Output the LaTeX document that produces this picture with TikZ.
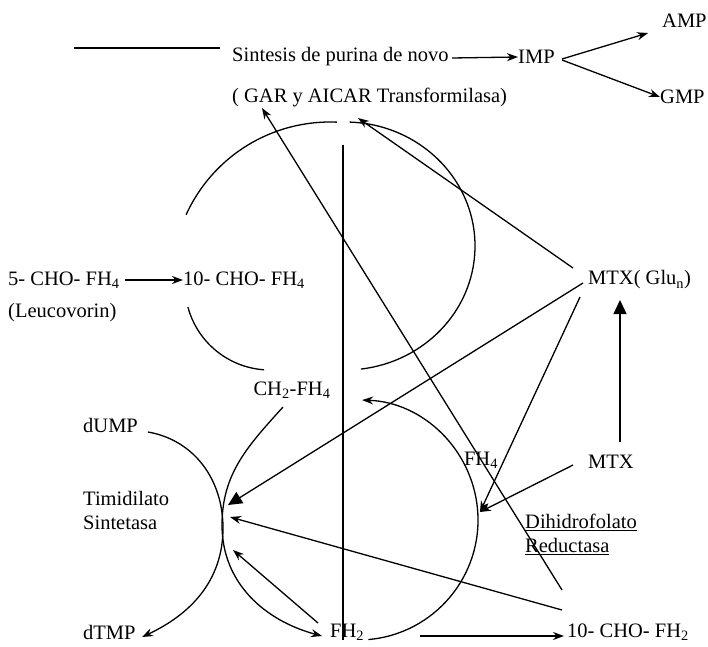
\documentclass[tikz,border=0pt]{standalone}
\usepackage{fontspec}
\setmainfont{Liberation Serif}
\usepackage{tikz}
\usetikzlibrary{arrows.meta}
\tikzset{
  lbl/.style={ inner sep=0pt, font=\fontsize{20.5}{24}\selectfont }
}
\tikzset{
  flow/.style={ line width=1.3pt }
}
\tikzset{
  arrS/.style={ flow, -{Stealth[length=11pt,width=8pt]} }
}
\tikzset{
  arrT/.style={ flow, -{Triangle[length=14pt,width=13pt]} }
}

\begin{document}
\begin{tikzpicture}[x=1pt, y=1pt]
      \useasboundingbox (0,0) rectangle (708,646);

      \node[lbl, anchor=west] (sint) at (232,589) {Sintesis de purina de novo};
      \node[lbl, anchor=west] (imp) at (518,589) {IMP};
      \node[lbl, anchor=west] (amp) at (662,625) {AMP};
      \node[lbl, anchor=west] (gmp) at (660,549) {GMP};
      \node[lbl, anchor=west] (gar) at (232,549) {( GAR y AICAR Transformilasa)};
      \node[lbl, anchor=west] (cho5) at (8,366) {5- CHO- FH\textsubscript{4}};
      \node[lbl, anchor=west] (leuco) at (8,333) {(Leucovorin)};
      \node[lbl, anchor=west] (cho10) at (183,366) {10- CHO- FH\textsubscript{4}};
      \node[lbl, anchor=west] (mtxglu) at (588,366) {MTX( Glu\textsubscript{n})};
      \node[lbl] (ch2) at (292,256) {CH\textsubscript{2}-FH\textsubscript{4}};
      \node[lbl, anchor=west] (dump) at (83,221) {dUMP};
      \node[lbl, anchor=west, align=left] (ts) at (83,136) {Timidilato\\Sintetasa};
      \node[lbl] (fh4) at (481,186) {FH\textsubscript{4}};
      \node[lbl] (mtx) at (611,184) {MTX};
      \node[lbl, anchor=west, align=left] (dhfr) at (525,112) {\underline{Dihidrofolato}\\\underline{Reductasa}};
      \node[lbl, anchor=west] (dtmp) at (83,14) {dTMP};
      \node[lbl, anchor=west] (fh2) at (330,14) {FH\textsubscript{2}};
      \node[lbl, anchor=west] (cho10b) at (567,14) {10- CHO- FH\textsubscript{2}};

      \coordinate (lineL) at (74,598);
      \coordinate (lineR) at (220,598);
      \coordinate (topA) at (358,528);
      \coordinate (garA) at (262,538);
      \coordinate (tsA) at (228,141);
      \coordinate (tsB) at (230,129);
      \coordinate (tsC) at (233,96);
      \coordinate (dhA) at (480,134);
      \coordinate (axT) at (343,501);
      \coordinate (axB) at (343,6);

      % ciclo superior
      \draw[flow] (330,366) ++(155.6:158pt) arc[start angle=155.6, end angle=87.5, radius=158pt];
      \draw[flow] (345,400) ++(88:130pt and 124pt) arc[start angle=88, end angle=-83, x radius=130pt, y radius=124pt];
      \draw[flow] (270,361) ++(195:85pt) arc[start angle=195, end angle=266, radius=85pt];

      % ciclo inferior
      \draw[arrS] (358,126) ++(-85:120pt) arc[start angle=-85, end angle=88, radius=120pt];
      \draw[arrS] (283,239) to[out=228, in=90] (222,121) to[out=-90, in=165] (322,10);
      \draw[arrS] (148,214) to[out=-10, in=90] (223,118) to[out=-90, in=25] (142,9);

      \draw[flow] (lineL) -- (lineR);
      \draw[flow] (axT) -- (axB);
      \draw[arrS] (452,588) -- (imp.west);
      \draw[arrS] (562,587) -- (648,613);
      \draw[arrS] (562,586) -- (gmp.west);
      \draw[arrS] (125,366) -- (cho10.west);

      \draw[arrS] (573,378) -- (topA);
      \draw[arrT] (583,363) -- (tsA);
      \draw[arrS] (580,349) -- (dhA);
      \draw[arrS] (573,181) -- (dhA);
      \draw[arrT] (620,204) -- (620,346);
      \draw[arrS] (562,36) -- (tsB);
      \draw[arrS] (318,23) -- (tsC);
      \draw[arrS] (562,56) -- (garA);
      \draw[arrS] (420,10) -- (564,10);
    \end{tikzpicture}
\end{document}
